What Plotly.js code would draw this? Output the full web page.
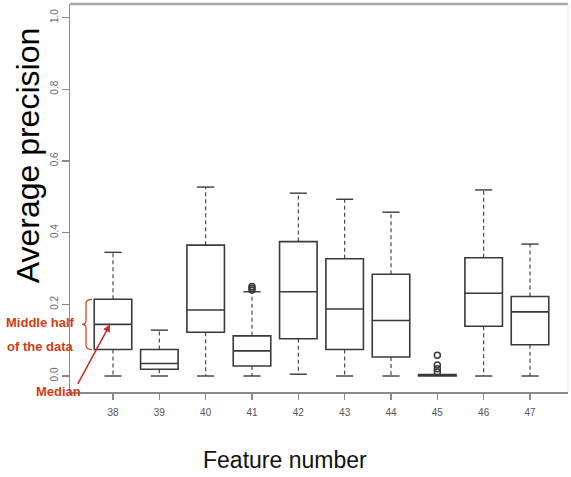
<!DOCTYPE html>
<html>
<head>
<meta charset="utf-8">
<script src="https://cdn.plot.ly/plotly-3.0.1.min.js"></script>
<style>html,body{margin:0;padding:0;background:#fff;}#chart{width:571px;height:477px;}</style>
</head>
<body>
<div id="chart"></div>
<script>
// ---- data ----
const features   = [38, 39, 40, 41, 42, 43, 44, 45, 46, 47];
const lowerWhisk = [0.000, 0.000, 0.000, 0.000, 0.005, 0.000, 0.000, 0.000, 0.000, 0.000];
const q1         = [0.074, 0.019, 0.122, 0.028, 0.104, 0.074, 0.053, 0.000, 0.139, 0.087];
const medians    = [0.144, 0.035, 0.184, 0.070, 0.235, 0.187, 0.155, 0.002, 0.231, 0.179];
const q3         = [0.214, 0.074, 0.365, 0.112, 0.375, 0.327, 0.284, 0.004, 0.330, 0.222];
const upperWhisk = [0.345, 0.128, 0.527, 0.235, 0.510, 0.493, 0.457, 0.006, 0.519, 0.368];
const outlierX   = [41, 41, 41, 45, 45, 45, 45];
const outlierY   = [0.240, 0.245, 0.250, 0.058, 0.031, 0.020, 0.011];
const yTickVals  = [0, 0.2, 0.4, 0.6, 0.8, 1.0];
const yTickText  = ['0.0', '0.2', '0.4', '0.6', '0.8', '1.0'];

(function () {
const boxColor = '#3a3a3a';
const red = '#cf3d12';
const sans = '"Liberation Sans", Arial, sans-serif';

// whiskers (dashed) and caps (solid), built from the arrays
const wx = [], wy = [], cx = [], cy = [];
const capHalf = 0.185;
features.forEach((f, i) => {
  if (upperWhisk[i] > q3[i]) { wx.push(f, f, null); wy.push(q3[i], upperWhisk[i], null); }
  if (lowerWhisk[i] < q1[i]) { wx.push(f, f, null); wy.push(q1[i], lowerWhisk[i], null); }
  if (upperWhisk[i] > q3[i] + 0.003) {
    cx.push(f - capHalf, f + capHalf, null); cy.push(upperWhisk[i], upperWhisk[i], null);
  }
  if (lowerWhisk[i] < q1[i] - 0.003 || q1[i] > 0.01) {
    cx.push(f - capHalf, f + capHalf, null); cy.push(lowerWhisk[i], lowerWhisk[i], null);
  }
});

const traces = [
  {type: 'scatter', mode: 'lines', x: wx, y: wy, hoverinfo: 'skip', showlegend: false,
   line: {color: boxColor, width: 1.1, dash: '4px,3px'}},
  {type: 'scatter', mode: 'lines', x: cx, y: cy, hoverinfo: 'skip', showlegend: false,
   line: {color: boxColor, width: 1.4}},
  {type: 'box', x: features, q1: q1, median: medians, q3: q3,
   lowerfence: q1, upperfence: q3, width: 0.81, whiskerwidth: 0,
   boxpoints: false, fillcolor: 'rgba(255,255,255,0)', showlegend: false,
   line: {color: boxColor, width: 1.6}, hoverinfo: 'skip'},
  {type: 'scatter', mode: 'markers', x: outlierX, y: outlierY, hoverinfo: 'skip', showlegend: false,
   marker: {symbol: 'circle-open', size: 6, color: boxColor, line: {width: 1.5, color: boxColor}}}
];

// brace geometry derived from the first box
const bx = 37.417, bxr = 37.547, btip = 37.331;
const bTop = q3[0], bBot = q1[0], bMid = medians[0];
const bracePath = `M ${bxr},${bTop} Q ${bx},${bTop} ${bx},${bTop - 0.012} L ${bx},${bMid + 0.01} Q ${bx},${bMid} ${btip},${bMid} ` +
                  `Q ${bx},${bMid} ${bx},${bMid - 0.01} L ${bx},${bBot + 0.012} Q ${bx},${bBot} ${bxr},${bBot}`;

const layout = {
  width: 571, height: 477,
  margin: {l: 70, r: 3, t: 4, b: 85},
  paper_bgcolor: '#ffffff', plot_bgcolor: '#ffffff',
  showlegend: false,
  xaxis: {
    range: [37.072, 47.82], tickvals: features, ticktext: features.map(String),
    showgrid: false, zeroline: false, showline: true, linecolor: '#8a8a8a', linewidth: 1.5,
    ticks: 'outside', ticklen: 6, tickcolor: '#8a8a8a', tickwidth: 1.2,
    ticklabelstandoff: 4,
    tickfont: {family: sans, size: 10, color: '#555'}
  },
  yaxis: {
    range: [-0.0446, 1.0377], tickvals: yTickVals, ticktext: yTickText, tickangle: -90,
    showgrid: false, zeroline: false, showline: true, linecolor: '#8a8a8a', linewidth: 1.5,
    ticks: 'outside', ticklen: 7, tickcolor: '#8a8a8a', tickwidth: 1.2,
    tickfont: {family: sans, size: 10, color: '#666'}
  },
  shapes: [
    {type: 'line', xref: 'paper', yref: 'paper', x0: 0, x1: 1, y0: 1, y1: 1,
     line: {color: '#a8a8a8', width: 2.5}},
    {type: 'line', xref: 'paper', yref: 'paper', x0: 1, x1: 1, y0: 0, y1: 1,
     line: {color: '#e6e6e6', width: 1}},
    {type: 'path', xref: 'x', yref: 'y', path: bracePath, line: {color: red, width: 1.2}}
  ],
  annotations: [
    {text: 'Average precision', xref: 'paper', yref: 'paper', x: -0.0843, y: 0.61,
     xanchor: 'center', yanchor: 'middle', textangle: -90, showarrow: false,
     font: {family: sans, size: 32, color: '#000'}},
    {text: 'Feature number', xref: 'paper', yref: 'paper', x: 0.4317, y: -0.175,
     xanchor: 'center', yanchor: 'middle', showarrow: false,
     font: {family: sans, size: 23, color: '#111'}},
    {text: '<b>Middle half</b>', xref: 'paper', yref: 'y', x: (40 - 70) / 498, y: 0.148,
     xanchor: 'center', yanchor: 'middle', showarrow: false,
     font: {family: sans, size: 13, color: red}},
    {text: '<b>of the data</b>', xref: 'paper', yref: 'y', x: (40 - 70) / 498, y: 0.0837,
     xanchor: 'center', yanchor: 'middle', showarrow: false,
     font: {family: sans, size: 13, color: red}},
    {text: '<b>Median</b>', xref: 'paper', yref: 'y', x: (58 - 70) / 498, y: -0.042,
     xanchor: 'center', yanchor: 'middle', showarrow: false,
     font: {family: sans, size: 13, color: red}},
    {text: '', xref: 'x', yref: 'y', x: 37.935, y: bMid, ax: -33, ay: 61,
     showarrow: true, arrowhead: 2, arrowsize: 1, arrowwidth: 1.5, arrowcolor: '#c42a1e', standoff: 0}
  ]
};

Plotly.newPlot('chart', traces, layout, {staticPlot: true, displayModeBar: false});
})();
</script>
</body>
</html>
